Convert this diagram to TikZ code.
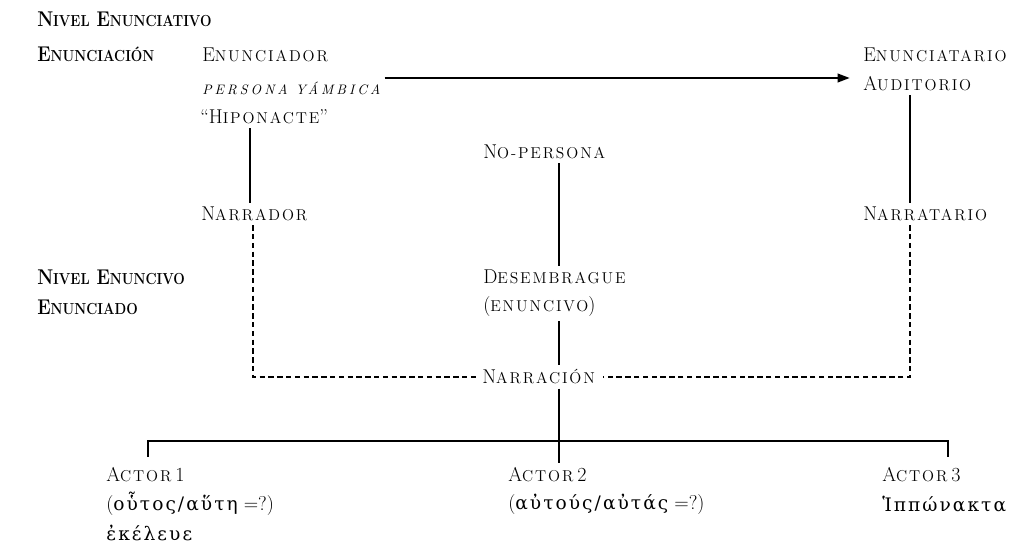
\documentclass[tikz,border=0pt]{standalone}
\usepackage{fontspec}
\setmainfont{Latin Modern Roman}
\newfontfamily\grfont[Scale=0.93, LetterSpace=11]{DejaVu Serif}
\usetikzlibrary{arrows.meta, positioning, calc}
% initial capital, then smaller spaced capitals
\newcommand{\capsc}[2]{{\addfontfeature{LetterSpace=10}#1}{\fontsize{11.8}{14}\selectfont\addfontfeature{LetterSpace=12}#2}}
% same for the bold level names, not spaced
\newcommand{\levelsc}[2]{#1{\fontsize{12}{14}\selectfont#2}}

\begin{document}
\begin{tikzpicture}[
    x=0.75pt, y=-0.75pt,
    term/.style={anchor=west, inner xsep=0pt, inner ysep=3pt,
        font=\fontsize{15}{17}\selectfont},
    level/.style={term, font=\fontsize{16}{18}\selectfont\bfseries\addfontfeature{FakeStretch=0.85}},
    link/.style={line width=1.2pt},
    dashlink/.style={line width=1.2pt, dash pattern=on 4pt off 2.6pt},
    flow/.style={-{Triangle[length=9pt, width=6.5pt]}, line width=1.3pt}
]
\useasboundingbox (0,0) rectangle (1018,548);
% levels on the left
\node[level] (nivelA) at (37,19) {\levelsc{N}{IVEL} \levelsc{E}{NUNCIATIVO}};
\node[level] (enunciacion) at (37,54) {\levelsc{E}{NUNCIACIÓN}};
\node[level] (nivelB) at (37,277) {\levelsc{N}{IVEL} \levelsc{E}{NUNCIVO}};
\node[level] (enunciado) at (37,307) {\levelsc{E}{NUNCIADO}};
% enunciation
\node[term] (enunciador) at (202,55) {\capsc{E}{NUNCIADOR}};
\node[term] (persona) at (202,88) {\itshape\fontsize{10.3}{12}\selectfont\addfontfeature{LetterSpace=22}PERSONA YÁMBICA};
\node[term] (hiponacte) at (200,117) {“\capsc{H}{IPONACTE}”};
\node[term] (enunciatario) at (863,55) {\capsc{E}{NUNCIATARIO}};
\node[term] (auditorio) at (863,84) {\capsc{A}{UDITORIO}};
\node[term] (nopersona) at (483,152) {\capsc{N}{O-PERSONA}};
\node[term] (narrador) at (201,214) {\capsc{N}{ARRADOR}};
\node[term] (narratario) at (863,214) {\capsc{N}{ARRATARIO}};
% enunciated
\node[term] (desembrague) at (483,277) {\capsc{D}{ESEMBRAGUE}};
\node[term] (enuncivo) at (483,307) {({\fontsize{11.8}{14}\selectfont\addfontfeature{LetterSpace=12}ENUNCIVO})};
\node[term] (narracion) at (482,377) {\capsc{N}{ARRACIÓN}};
\node[term] (actorA) at (106,475) {\capsc{A}{CTOR}\kern3pt 1};
\node[term] (actorAref) at (106,504) {({\grfont οὗτος/αὕτη} =?)};
\node[term] (actorAverb) at (106,533) {{\grfont ἐκέλευε}};
\node[term] (actorB) at (508,475) {\capsc{A}{CTOR}\kern3pt 2};
\node[term] (actorBref) at (508,504) {({\grfont αὐτούς/αὐτάς} =?)};
\node[term] (actorC) at (882,475) {\capsc{A}{CTOR}\kern3pt 3};
\node[term] (actorCref) at (882,504) {{\grfont Ἱππώνακτα}};
% columns and rows for the connectors
\coordinate (leftcol) at (250,0);
\coordinate (leftdash) at (253,0);
\coordinate (midcol) at (559,0);
\coordinate (rightcol) at (910,0);
\coordinate (arrowrow) at (0,78);
\coordinate (barL) at (148,441);
\coordinate (barR) at (948,441);

\draw[flow] ([xshift=3pt]persona.east |- arrowrow) -- ([xshift=-10pt]auditorio.west |- arrowrow);
\draw[link] (hiponacte.south -| leftcol) -- (narrador.north -| leftcol);
\draw[link] (auditorio.south -| rightcol) -- (narratario.north -| rightcol);
\draw[link] (nopersona.south -| midcol) -- (desembrague.north -| midcol);
\draw[link] (enuncivo.south -| midcol) -- (narracion.north -| midcol);
\draw[dashlink, shorten >=3pt] (narrador.south -| leftdash) |- (narracion.west);
\draw[dashlink, shorten >=6pt] (narratario.south -| rightcol) |- (narracion.east);
\draw[link] (narracion.south -| midcol) -- (actorB.north -| midcol);
\draw[link, shorten <=5pt, shorten >=5pt] (actorA.north -| barL) -- (barL) -- (barR) -- (actorC.north -| barR);
\end{tikzpicture}
\end{document}
